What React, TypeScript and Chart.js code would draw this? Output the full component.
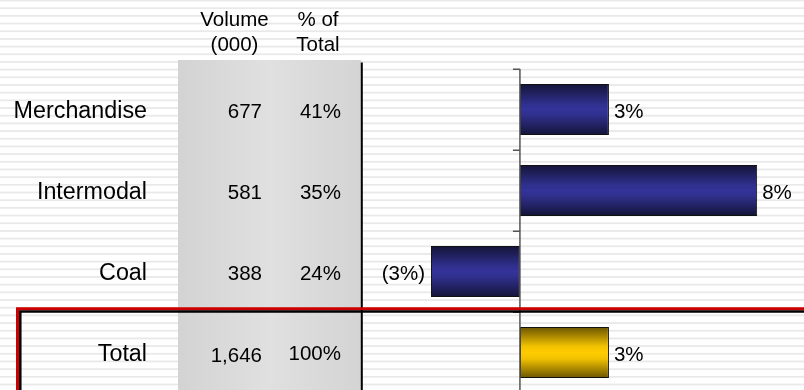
import { useEffect, useRef } from 'react';
import { Chart, registerables } from 'chart.js';

Chart.register(...registerables);

// Carload volume by business line and year-over-year change
const categories = ['Merchandise', 'Intermodal', 'Coal', 'Total'];
const volumes = [677, 581, 388, 1646];
const shares = [41, 35, 24, 100];
const changes = [3, 8, -3, 3];
const volumeHeader = ['Volume', '(000)'];
const shareHeader = ['% of', 'Total'];

const FONT = '"Liberation Sans", Arial, Helvetica, sans-serif';
const CANVAS_W = 804;
const CANVAS_H = 400;
const BAR_RATIO = 0.63;

const fmtVolume = (v: number) => v.toLocaleString('en-US');
const fmtShare = (v: number) => `${v}%`;
const fmtChange = (v: number) => (v < 0 ? `(${-v}%)` : `${v}%`);

function bandOf(chart: Chart) {
  const y = chart.scales.y;
  return (y.bottom - y.top) / categories.length;
}

function barFill(c: any) {
  const isTotal = c.dataIndex === categories.length - 1;
  const solid = isTotal ? '#ffcc00' : '#333399';
  const chart: Chart = c.chart;
  const y = chart.scales?.y;
  if (!y || c.dataIndex === undefined) return solid;
  const center = y.getPixelForValue(c.dataIndex);
  const half = (bandOf(chart) * BAR_RATIO) / 2;
  if (!isFinite(center) || !isFinite(half) || half <= 0) return solid;
  const g = chart.ctx.createLinearGradient(0, center - half, 0, center + half);
  if (isTotal) {
    g.addColorStop(0, '#6a5400');
    g.addColorStop(0.38, '#f2c200');
    g.addColorStop(0.5, '#ffcc00');
    g.addColorStop(0.62, '#f2c200');
    g.addColorStop(1, '#6a5400');
  } else {
    g.addColorStop(0, '#141438');
    g.addColorStop(0.4, '#30308f');
    g.addColorStop(0.5, '#333399');
    g.addColorStop(0.6, '#30308f');
    g.addColorStop(1, '#141438');
  }
  return g;
}

const slidePlugin = {
  id: 'slide',
  beforeDraw(chart: Chart) {
    const { ctx, chartArea } = chart;
    ctx.save();
    // striped slide background
    ctx.fillStyle = '#ffffff';
    ctx.fillRect(0, 0, CANVAS_W, CANVAS_H);
    ctx.fillStyle = '#e9e9e9';
    for (let k = 0; 0.5 + k * 7.68 < CANVAS_H + 2; k++) {
      const c = 0.5 + k * 7.68;
      ctx.fillRect(0, c - 0.9, CANVAS_W, 1.8);
    }
    // shaded table panel
    const left = 178;
    const right = chartArea.left;
    const g = ctx.createLinearGradient(left, 0, right, 0);
    g.addColorStop(0, '#d3d3d3');
    g.addColorStop(0.5, '#e0e0e0');
    g.addColorStop(1, '#d4d4d4');
    ctx.fillStyle = g;
    ctx.fillRect(left, 60, right - left, CANVAS_H - 60);
    ctx.restore();
  },
  afterDatasetsDraw(chart: Chart) {
    const { ctx } = chart;
    const x = chart.scales.x;
    const y = chart.scales.y;
    const band = bandOf(chart);
    const zero = x.getPixelForValue(0);
    ctx.save();
    // zero axis with category tick marks
    ctx.strokeStyle = '#555555';
    ctx.lineWidth = 1.5;
    ctx.beginPath();
    ctx.moveTo(zero, y.top);
    ctx.lineTo(zero, CANVAS_H);
    for (let i = 0; i < categories.length; i++) {
      const t = Math.round(y.getPixelForValue(i) - band / 2) + 0.25;
      ctx.moveTo(zero - 7, t);
      ctx.lineTo(zero, t);
    }
    ctx.stroke();

    // value labels at bar ends
    const meta = chart.getDatasetMeta(0);
    ctx.fillStyle = '#000000';
    ctx.font = `20.5px ${FONT}`;
    meta.data.forEach((el: any, i: number) => {
      const v = changes[i];
      const base = el.y + 8;
      if (v < 0) {
        ctx.textAlign = 'right';
        ctx.fillText(fmtChange(v), el.x - 6, base);
      } else {
        ctx.textAlign = 'left';
        ctx.fillText(fmtChange(v), el.x + 5, base);
      }
    });
    ctx.restore();
  },
  afterDraw(chart: Chart) {
    const { ctx, chartArea } = chart;
    const y = chart.scales.y;
    const band = bandOf(chart);
    ctx.save();
    ctx.fillStyle = '#000000';

    // column headers
    ctx.font = `20.5px ${FONT}`;
    ctx.textAlign = 'center';
    volumeHeader.forEach((t, i) => ctx.fillText(t, 234.5, 26 + i * 25));
    shareHeader.forEach((t, i) => ctx.fillText(t, 318, 26 + i * 25));

    // row labels and table values
    const last = categories.length - 1;
    categories.forEach((name, i) => {
      const base = y.getPixelForValue(i) + 8;
      ctx.font = `23.3px ${FONT}`;
      ctx.textAlign = 'right';
      ctx.fillText(name, 147, base);
      ctx.font = `20.5px ${FONT}`;
      ctx.fillText(fmtVolume(volumes[i]), 262, base + (i === last ? 1.5 : 0));
      ctx.fillText(fmtShare(shares[i]), 341, base - (i === last ? 1 : 0));
    });

    // panel divider
    ctx.strokeStyle = '#000000';
    ctx.lineWidth = 2;
    ctx.beginPath();
    ctx.moveTo(chartArea.left + 0.8, 62.5);
    ctx.lineTo(chartArea.left + 0.8, CANVAS_H);
    ctx.stroke();

    // highlight frame around the total row
    const b = y.getPixelForValue(last) - band / 2;
    ctx.strokeStyle = '#cc0000';
    ctx.lineWidth = 3;
    ctx.beginPath();
    ctx.moveTo(17.5, CANVAS_H + 5);
    ctx.lineTo(17.5, b - 3.2);
    ctx.lineTo(CANVAS_W + 5, b - 3.2);
    ctx.stroke();
    ctx.strokeStyle = '#000000';
    ctx.lineWidth = 2.5;
    ctx.beginPath();
    ctx.moveTo(20.3, CANVAS_H + 5);
    ctx.lineTo(20.3, b - 0.4);
    ctx.lineTo(CANVAS_W + 5, b - 0.4);
    ctx.stroke();
    ctx.restore();
  },
};

export default function App() {
  const canvasRef = useRef<HTMLCanvasElement | null>(null);

  useEffect(() => {
    const canvas = canvasRef.current;
    if (!canvas) return;
    const chart = new Chart(canvas, {
      type: 'bar',
      data: {
        labels: categories,
        datasets: [
          {
            data: changes,
            backgroundColor: barFill,
            borderColor: '#111111',
            borderWidth: 1,
            borderSkipped: false,
            barPercentage: BAR_RATIO,
            categoryPercentage: 1,
          },
        ],
      },
      options: {
        indexAxis: 'y',
        responsive: false,
        animation: false,
        devicePixelRatio: 1,
        layout: { padding: { left: 361, right: 0, top: 69, bottom: 7 } },
        plugins: {
          legend: { display: false },
          tooltip: { enabled: false },
          title: { display: false },
        },
        scales: {
          x: { display: false, min: -5.36, max: 9.58 },
          y: { display: false, offset: true },
        },
      },
      plugins: [slidePlugin],
    });
    return () => chart.destroy();
  }, []);

  return (
    <div
      style={{
        position: 'fixed',
        left: 0,
        top: 0,
        width: CANVAS_W,
        height: 390,
        overflow: 'hidden',
        background: '#ffffff',
      }}
    >
      <canvas ref={canvasRef} width={CANVAS_W} height={CANVAS_H} style={{ display: 'block' }} />
    </div>
  );
}
